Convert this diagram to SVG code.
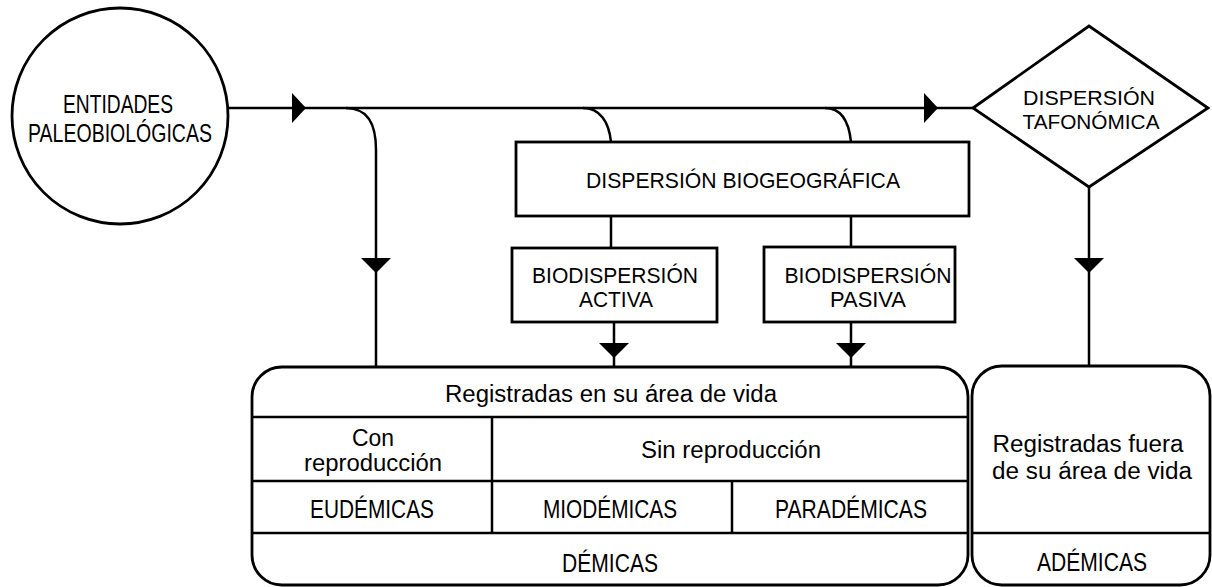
<svg xmlns="http://www.w3.org/2000/svg" width="1212" height="587" viewBox="0 0 1212 587">
  <style>
    .shape { fill: #ffffff; stroke: #000000; stroke-width: 2.8; }
    .line { fill: none; stroke: #000000; stroke-width: 2.5; }
    .head { fill: #000000; stroke: none; }
    text { font-family: "Liberation Sans", Arial, sans-serif; fill: #000000; text-anchor: middle; }
    .up { font-size: 22px; }
    .dia { font-size: 20px; }
    .low { font-size: 23px; }
    .cond { font-size: 25px; }
  </style>
  <rect x="0" y="0" width="1212" height="587" fill="#ffffff"/>

  <g id="connectors">
    <line class="line" x1="228" y1="108" x2="973" y2="108"/>
    <path class="line" d="M346,108 C368,108 376,124 376,150 L376,367"/>
    <path class="line" d="M583,108 C600,108 609,122 611,142"/>
    <path class="line" d="M825,108 C842,108 849,122 851,142"/>
    <line class="line" x1="611" y1="216" x2="611" y2="248"/>
    <line class="line" x1="851" y1="216" x2="851" y2="247"/>
    <line class="line" x1="614" y1="322" x2="614" y2="367"/>
    <line class="line" x1="851" y1="322" x2="851" y2="367"/>
    <line class="line" x1="1089" y1="187" x2="1089" y2="366"/>
    <polygon class="head" points="292,93 306,108 292,123"/>
    <polygon class="head" points="924,93 938,108 924,123"/>
    <polygon class="head" points="361,258 391,258 376,273"/>
    <polygon class="head" points="599,343 629,343 614,358"/>
    <polygon class="head" points="836,343 866,343 851,358"/>
    <polygon class="head" points="1074,258 1104,258 1089,273"/>
  </g>

  <g id="entidades">
    <ellipse class="shape" cx="120" cy="116" rx="108" ry="108"/>
    <text class="cond" x="118" y="113" textLength="110" lengthAdjust="spacingAndGlyphs">ENTIDADES</text>
    <text class="cond" x="120" y="142" textLength="184" lengthAdjust="spacingAndGlyphs">PALEOBIOLÓGICAS</text>
  </g>

  <g id="dispersion-tafonomica">
    <polygon class="shape" points="973,108 1089,26 1208,108 1089,187"/>
    <text class="dia" x="1089" y="105" textLength="132" lengthAdjust="spacingAndGlyphs">DISPERSIÓN</text>
    <text class="dia" x="1091" y="129" textLength="137" lengthAdjust="spacingAndGlyphs">TAFONÓMICA</text>
  </g>

  <g id="dispersion-biogeografica">
    <rect class="shape" x="516" y="142" width="453" height="74"/>
    <text class="up" x="743" y="188" textLength="314" lengthAdjust="spacingAndGlyphs">DISPERSIÓN BIOGEOGRÁFICA</text>
  </g>

  <g id="biodispersion-activa">
    <rect class="shape" x="512" y="248" width="205" height="74"/>
    <text class="up" x="615" y="283" textLength="166" lengthAdjust="spacingAndGlyphs">BIODISPERSIÓN</text>
    <text class="up" x="616" y="307" textLength="74" lengthAdjust="spacingAndGlyphs">ACTIVA</text>
  </g>

  <g id="biodispersion-pasiva">
    <rect class="shape" x="764" y="247" width="191" height="75"/>
    <text class="up" x="868" y="283" textLength="167" lengthAdjust="spacingAndGlyphs">BIODISPERSIÓN</text>
    <text class="up" x="868" y="307" textLength="76" lengthAdjust="spacingAndGlyphs">PASIVA</text>
  </g>

  <g id="demicas">
    <rect class="shape" x="252" y="367" width="716" height="218" rx="30" ry="30"/>
    <line class="line" x1="252" y1="417" x2="968" y2="417"/>
    <line class="line" x1="252" y1="481" x2="968" y2="481"/>
    <line class="line" x1="252" y1="533" x2="968" y2="533"/>
    <line class="line" x1="492" y1="417" x2="492" y2="533"/>
    <line class="line" x1="732" y1="481" x2="732" y2="533"/>
    <text class="low" x="611" y="402" textLength="332" lengthAdjust="spacingAndGlyphs">Registradas en su área de vida</text>
    <text class="low" x="373" y="446" textLength="42" lengthAdjust="spacingAndGlyphs">Con</text>
    <text class="low" x="373" y="471" textLength="138" lengthAdjust="spacingAndGlyphs">reproducción</text>
    <text class="low" x="731" y="458" textLength="180" lengthAdjust="spacingAndGlyphs">Sin reproducción</text>
    <text class="cond" x="372" y="518" textLength="124" lengthAdjust="spacingAndGlyphs">EUDÉMICAS</text>
    <text class="cond" x="610" y="518" textLength="134" lengthAdjust="spacingAndGlyphs">MIODÉMICAS</text>
    <text class="cond" x="851" y="518" textLength="152" lengthAdjust="spacingAndGlyphs">PARADÉMICAS</text>
    <text class="cond" x="610" y="572" textLength="96" lengthAdjust="spacingAndGlyphs">DÉMICAS</text>
  </g>

  <g id="ademicas">
    <rect class="shape" x="972" y="366" width="238" height="219" rx="30" ry="30"/>
    <line class="line" x1="972" y1="533" x2="1210" y2="533"/>
    <text class="low" x="1088" y="452" textLength="191" lengthAdjust="spacingAndGlyphs">Registradas fuera</text>
    <text class="low" x="1092" y="479" textLength="200" lengthAdjust="spacingAndGlyphs">de su área de vida</text>
    <text class="cond" x="1092" y="571" textLength="110" lengthAdjust="spacingAndGlyphs">ADÉMICAS</text>
  </g>
</svg>
